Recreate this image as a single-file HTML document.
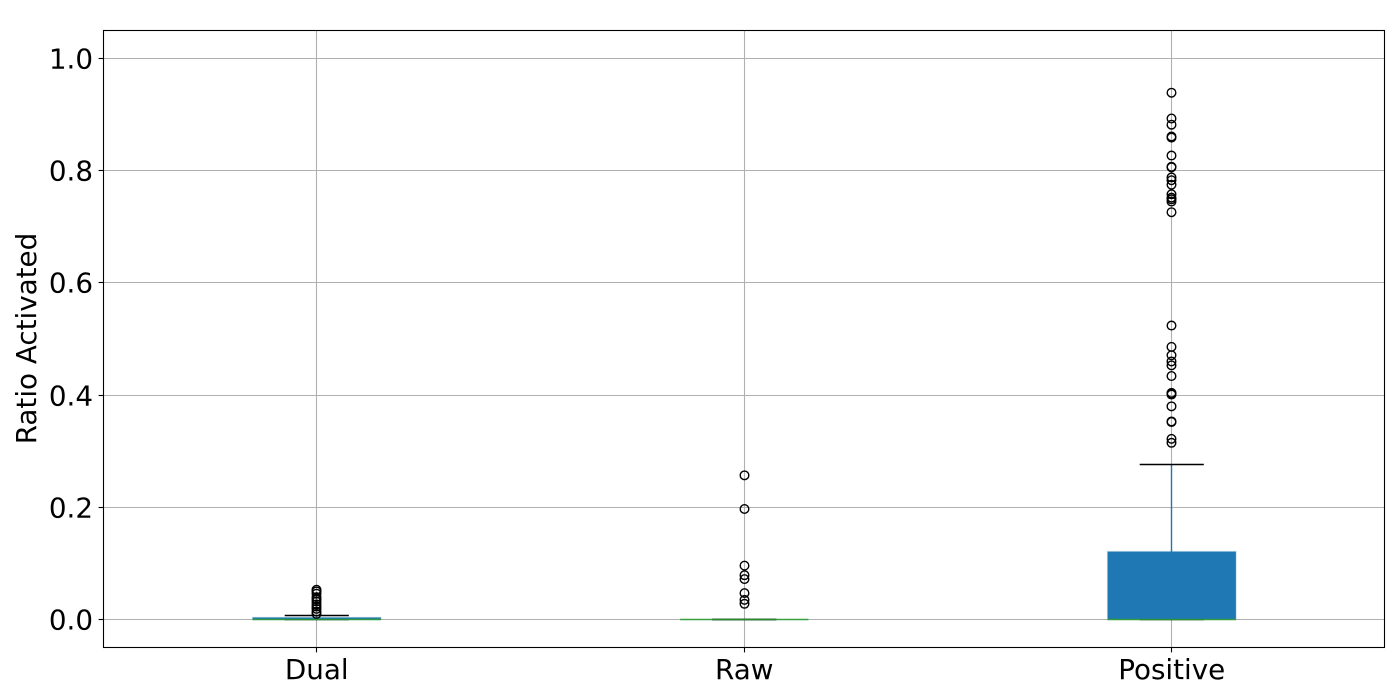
<!DOCTYPE html>
<html>
<head>
<meta charset="utf-8">
<title>Ratio Activated Boxplot</title>
<style>
html,body{margin:0;padding:0;background:#fff;width:1400px;height:700px;overflow:hidden}
svg{display:block}
text{font-family:"DejaVu Sans","Liberation Sans",sans-serif;fill:#000}
</style>
</head>
<body>
<svg id="chart" width="1400" height="700" viewBox="0 0 1400 700" xmlns="http://www.w3.org/2000/svg"></svg>
<script>
const categories = ['Dual', 'Raw', 'Positive'];
const yTickValues = [0, 0.2, 0.4, 0.6, 0.8, 1.0];
const yTickLabels = ['0.0', '0.2', '0.4', '0.6', '0.8', '1.0'];
const q1Values = [0, 0, 0];
const medianValues = [0, 0, 0];
const q3Values = [0.0035, 0, 0.121];
const whiskerLowValues = [0, 0, 0];
const whiskerHighValues = [0.008, 0, 0.277];
const dualOutliers = [0.053, 0.050, 0.046, 0.040, 0.036, 0.032, 0.027, 0.023, 0.019, 0.014, 0.010];
const rawOutliers = [0.257, 0.197, 0.096, 0.079, 0.072, 0.047, 0.035, 0.028];
const positiveOutliers = [0.939, 0.893, 0.882, 0.861, 0.859, 0.827, 0.807, 0.806, 0.788, 0.783, 0.775, 0.758, 0.752, 0.749, 0.745, 0.726, 0.524, 0.486, 0.471, 0.460, 0.453, 0.434, 0.404, 0.403, 0.401, 0.380, 0.353, 0.352, 0.322, 0.315];
const outlierSets = [dualOutliers, rawOutliers, positiveOutliers];

const svg = document.getElementById('chart');
const NS = 'http://www.w3.org/2000/svg';
const plotLeft = 103, plotRight = 1385.5, plotTop = 30, plotBottom = 647.5;
const xMin = 0.5, xMax = 3.5, yMin = -0.0499, yMax = 1.0508;

function xScale(pos) { return plotLeft + (pos - xMin) / (xMax - xMin) * (plotRight - plotLeft); }
function yScale(v) { return plotBottom - (v - yMin) / (yMax - yMin) * (plotBottom - plotTop); }
function snap(p) { return Math.floor(p) + 0.5; }
function make(tag, attrs, text) {
  const el = document.createElementNS(NS, tag);
  for (const k in attrs) el.setAttribute(k, attrs[k]);
  if (text !== undefined) el.textContent = text;
  return el;
}

const gridColor = '#b0b0b0', blue = '#1f77b4', green = '#2ca02c';
const frameLeft = snap(plotLeft), frameRight = snap(plotRight - 1), frameTop = snap(plotTop), frameBottom = snap(plotBottom);

yTickValues.forEach(function (v, i) {
  const y = snap(yScale(v));
  const grid = make('line', {x1: frameLeft, x2: frameRight, y1: y, y2: y, stroke: gridColor, 'stroke-width': 1.1});
  
  
  svg.appendChild(grid);
  const tick = make('line', {x1: frameLeft - 4.9, x2: frameLeft, y1: y, y2: y, stroke: '#000', 'stroke-width': 1.1});
  
  
  svg.appendChild(tick);
  const label = make('text', {x: 93, y: y + 10, 'text-anchor': 'end', 'font-size': 27.78}, yTickLabels[i]);
  
  
  svg.appendChild(label);
});

categories.forEach(function (c, i) {
  const x = snap(xScale(i + 1));
  const grid = make('line', {x1: x, x2: x, y1: frameTop, y2: frameBottom, stroke: gridColor, 'stroke-width': 1.1});
  
  
  svg.appendChild(grid);
  const tick = make('line', {x1: x, x2: x, y1: frameBottom, y2: frameBottom + 4.9, stroke: '#000', 'stroke-width': 1.1});
  
  
  svg.appendChild(tick);
  const label = make('text', {x: xScale(i + 1), y: 679, 'text-anchor': 'middle', 'font-size': 27.78}, c);
  
  
  svg.appendChild(label);
});

const boxHalf = 0.15, capHalf = 0.075;
categories.forEach(function (c, i) {
  const pos = i + 1, x = snap(xScale(pos));
  const g = make('g', {});
  
  
  svg.appendChild(g);

  const upper = make('line', {x1: x, x2: x, y1: yScale(q3Values[i]), y2: yScale(whiskerHighValues[i]), stroke: blue, 'stroke-width': 1.4});
  
  
  g.appendChild(upper);

  const lower = make('line', {x1: x, x2: x, y1: yScale(q1Values[i]), y2: yScale(whiskerLowValues[i]), stroke: blue, 'stroke-width': 1.4});
  
  
  g.appendChild(lower);

  [whiskerHighValues[i], whiskerLowValues[i]].forEach(function (v) {
    const capY = snap(yScale(v));
    const cap = make('line', {x1: xScale(pos - capHalf), x2: xScale(pos + capHalf), y1: capY, y2: capY, stroke: '#000', 'stroke-width': 1.4});
    
    
    g.appendChild(cap);
  });

  const top = yScale(q3Values[i]), bottom = yScale(q1Values[i]);
  const bl = xScale(pos - boxHalf), br = xScale(pos + boxHalf);
  const box = make('path', {d: 'M' + bl + ' ' + top + 'H' + br + 'V' + bottom + 'H' + bl + 'Z', fill: blue, stroke: blue, 'stroke-width': 1.4, 'stroke-opacity': 0.25});
  
  
  g.appendChild(box);

  const medY = snap(yScale(medianValues[i]));
  const median = make('line', {x1: bl, x2: br, y1: medY, y2: medY, stroke: green, 'stroke-width': 1.4, 'stroke-opacity': 0.85});
  
  
  g.appendChild(median);

  outlierSets[i].forEach(function (v) {
    const p = make('circle', {cx: x, cy: yScale(v), r: 4.3, fill: 'none', stroke: '#000', 'stroke-width': 1.4});
    
    
    g.appendChild(p);
  });
});

const frame = make('rect', {x: frameLeft, y: frameTop, width: frameRight - frameLeft, height: frameBottom - frameTop, fill: 'none', stroke: '#000', 'stroke-width': 1.1});


svg.appendChild(frame);

const yTitle = make('text', {x: 36, y: 338.5, transform: 'rotate(-90 36 338.5)', 'text-anchor': 'middle', 'font-size': 27.78}, 'Ratio Activated');


svg.appendChild(yTitle);
</script>
</body>
</html>
